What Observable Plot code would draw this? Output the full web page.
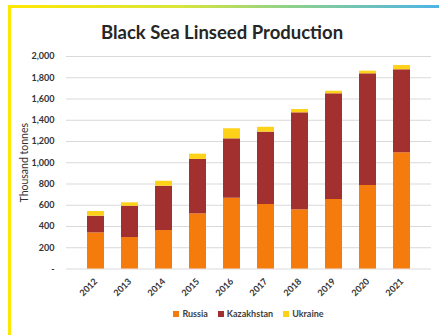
<!DOCTYPE html>
<html><head><meta charset="utf-8">
<script src="https://cdn.jsdelivr.net/npm/d3@7"></script>
<script src="https://cdn.jsdelivr.net/npm/@observablehq/plot@0.6"></script>
<style>
html,body{margin:0;padding:0;background:#fff;}
#wrap{position:relative;width:439px;height:335px;overflow:hidden;background:#fff;font-family:Lato,"Open Sans",sans-serif;}
#topline{position:absolute;left:8px;top:5px;width:431px;height:3px;background:linear-gradient(to right,#ffe800 0%,#d8e53a 40%,#8fd18a 65%,#4db4e6 100%);}
#leftline{position:absolute;left:8px;top:5px;width:3px;height:330px;background:#ffe800;}
#title{position:absolute;left:0;width:444px;top:21px;text-align:center;font-weight:bold;font-size:18.5px;color:#262626;}
#chart{position:absolute;left:0;top:40px;}
#legend{position:absolute;top:308px;left:0;width:439px;display:flex;justify-content:center;padding-left:58px;box-sizing:border-box;gap:10px;font-size:9px;font-weight:bold;color:#404040;}
#legend span.sw{display:inline-block;width:6px;height:6px;margin-right:3px;vertical-align:0px;}
</style></head>
<body>
<div id="wrap">
  <div id="topline"></div>
  <div id="leftline"></div>
  <div id="title">Black Sea Linseed Production</div>
  <div id="chart"></div>
  <div id="legend"></div>
</div>
<script>
const years = ["2012","2013","2014","2015","2016","2017","2018","2019","2020","2021"];
const russia = [340, 296, 362, 519, 666, 607, 557, 654, 786, 1094];
const kazakhstan = [157, 295, 417, 512, 559, 681, 913, 995, 1051, 781];
const ukraine = [44, 32, 47, 50, 95, 46, 31, 24, 25, 40];
const seriesNames = ["Russia", "Kazakhstan", "Ukraine"];
const seriesColors = ["#f47b0c", "#a2302f", "#ffd21a"];
const yTicks = [0, 200, 400, 600, 800, 1000, 1200, 1400, 1600, 1800, 2000];

const seriesValues = [russia, kazakhstan, ukraine];
const rows = [];
seriesNames.forEach((s, si) => years.forEach((y, i) => rows.push({year: y, series: s, value: seriesValues[si][i]})));

const fmt = d3.format(",");
const chart = Plot.plot({
  width: 439,
  height: 270,
  marginLeft: 66,
  marginRight: 8,
  marginTop: 16,
  marginBottom: 41.5,
  style: {fontFamily: "Lato, 'Open Sans', sans-serif", background: "transparent"},
  x: {domain: years, padding: 0.49},
  y: {domain: [0, 2000]},
  color: {domain: seriesNames, range: seriesColors},
  marks: [
    Plot.gridY(yTicks, {stroke: "#d9d9d9", strokeOpacity: 1}),
    Plot.ruleX([0], {frameAnchor: "left", stroke: "#d9d9d9"}),
    Plot.barY(rows, Plot.stackY({order: seriesNames, x: "year", y: "value", fill: "series"})),
    Plot.axisY({ticks: yTicks, tickSize: 0, tickPadding: 12, tickFormat: d => d === 0 ? "-" : fmt(d),
      fontSize: 9, fontWeight: "bold", fill: "#333",
      label: "Thousand tonnes", labelAnchor: "center", labelArrow: "none", labelOffset: 46}),
    Plot.axisX({tickSize: 0, tickPadding: 11, tickRotate: -45, fontSize: 9, fontWeight: "bold", fill: "#333", label: null})
  ]
});
document.getElementById("chart").appendChild(chart);
chart.querySelectorAll("g[aria-label='y-axis label'] text").forEach(t => {t.setAttribute("font-size", "10.5"); t.setAttribute("font-weight", "normal"); });

const leg = document.getElementById("legend");
seriesNames.forEach((s, i) => {
  const el = document.createElement("div");
  el.innerHTML = `<span class="sw" style="background:${seriesColors[i]}"></span>${s}`;
  leg.appendChild(el);
});
</script>
</body></html>
